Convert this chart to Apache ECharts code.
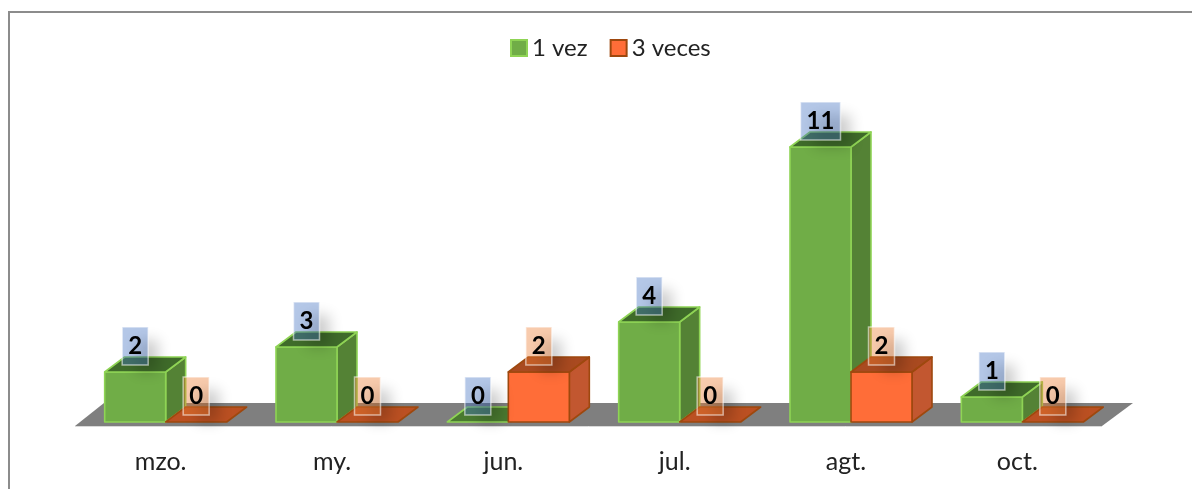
<!DOCTYPE html>
<html><head><meta charset="utf-8">
<style>html,body{margin:0;padding:0;background:#fff}#c{width:1192px;height:489px}</style>
<script src="https://cdn.jsdelivr.net/npm/echarts@6/dist/echarts.min.js"></script>
</head><body><div id="c"></div>
<script>
const categories = ['mzo.', 'my.', 'jun.', 'jul.', 'agt.', 'oct.'];
const unaVez = [2, 3, 0, 4, 11, 1];
const tresVeces = [0, 0, 2, 0, 2, 0];

const FONT = 'Lato';
const DX = 20, DY = -15, BAR = 0.356, FAR = 3000;
const GREEN = {front:'#70ad47', top:'#3f6b2a', flat:'#4a7a30', side:'#548235', line:'#8fd455', label:'rgba(68,114,196,0.4)'};
const ORANGE = {front:'#ff6d38', top:'#a94a20', flat:'#bb5022', side:'#c25730', line:'#9e480e', label:'rgba(237,125,49,0.4)'};

function bar(pal, dir) {
  return function (params, api) {
    const base = api.coord([api.value(0), 0]);
    const top = api.coord([api.value(0), api.value(1)]);
    const w = api.size([1, 0])[0] * BAR;
    const x0 = dir < 0 ? base[0] - w : base[0], x1 = x0 + w;
    const yb = base[1], yt = top[1];
    const ln = {stroke: pal.line, lineWidth: 1.6, lineJoin: 'round'};
    const kids = [];
    if (yb !== yt) {
      kids.push({type:'polygon', shape:{points:[[x1,yt],[x1+DX,yt+DY],[x1+DX,yb+DY],[x1,yb]]}, style:Object.assign({fill:pal.side}, ln)});
      kids.push({type:'rect', shape:{x:x0,y:yt,width:w,height:yb-yt}, style:Object.assign({fill:pal.front}, ln)});
    }
    kids.push({type:'polygon', shape:{points:[[x0,yt],[x1,yt],[x1+DX,yt+DY],[x0+DX,yt+DY]]},
      style:Object.assign({fill: yb !== yt ? pal.top : pal.flat}, ln)});
    return {type:'group', children:kids};
  };
}
function badge(pal, dir) {
  return function (params, api) {
    const base = api.coord([api.value(0), 0]);
    const top = api.coord([api.value(0), api.value(1)]);
    const w = api.size([1, 0])[0] * BAR;
    const cx = base[0] + dir * w / 2, cy = top[1] - 26;
    const txt = String(api.value(1));
    const bw = txt.length > 1 ? 40 : 26, bh = 38;
    return {type:'group', children:[
      {type:'rect', shape:{x:cx-bw/2+14-FAR,y:cy-bh/2+13,width:bw-4,height:bh-6},
       style:{fill:'#000', shadowBlur:14, shadowOffsetX:FAR, shadowColor:'rgba(0,0,0,0.2)'}},
      {type:'rect', shape:{x:cx-bw/2,y:cy-bh/2,width:bw,height:bh},
       style:{fill:pal.label, stroke:'rgba(255,255,255,0.55)', lineWidth:1.5}},
      {type:'text', style:{x:cx, y:cy, text:txt, align:'center', verticalAlign:'middle',
        fill:'#000', font:'bold 24px ' + FONT}}
    ]};
  };
}
function floor(params, api) {
  const p = api.coord([0, 0]), q = api.coord([categories.length - 1, 0]);
  const half = api.size([1, 0])[0] / 2;
  const l = p[0] - half, r = q[0] + half, y = p[1];
  return {type:'group', children:[
    {type:'polygon', shape:{points:[[l-5,y+4],[r-6,y+4],[r+25,y-19],[l+24,y-19]]}, style:{fill:'#7f7f7f'}},
    {type:'line', shape:{x1:l-5,y1:y+4.5,x2:r-6,y2:y+4.5}, style:{stroke:'#d9d9d9', lineWidth:1}}
  ]};
}
const pairs = s => s.map((v, i) => [i, v]);

const chart = echarts.init(document.getElementById('c'), null, {renderer:'canvas'});
chart.setOption({
  animation:false,
  backgroundColor:'#fff',
  textStyle:{fontFamily:FONT},
  grid:{left:80, right:84, top:72, bottom:67},
  legend:{
    data:[{name:'1 vez', icon:'rect'},{name:'3 veces', icon:'rect'}], top:31, left:505, itemWidth:16, itemHeight:16, itemGap:22,
    textStyle:{fontSize:24, color:'#222', fontFamily:FONT}
  },
  xAxis:{type:'category', data:categories, axisLine:{show:false}, axisTick:{show:false},
    axisLabel:{fontSize:25, color:'#222', margin:27, padding:[0,10,0,0], fontFamily:FONT}},
  yAxis:{type:'value', min:0, max:14, show:false},
  graphic:[{type:'polyline', silent:true, shape:{points:[[9,489],[9,12],[1192,12]]},
    style:{fill:'none', stroke:'#8c8c8c', lineWidth:2}}],
  series:[
    {type:'custom', name:'floor', data:[[0,0]], renderItem:floor, silent:true, z:1},
    {type:'custom', name:'1 vez', data:pairs(unaVez), renderItem:bar(GREEN,-1), z:2,
      itemStyle:{color:GREEN.front, borderColor:GREEN.line, borderWidth:1.5}},
    {type:'custom', name:'3 veces', data:pairs(tresVeces), renderItem:bar(ORANGE,1), z:3,
      itemStyle:{color:ORANGE.front, borderColor:ORANGE.line, borderWidth:1.5}},
    {type:'custom', name:'etiquetas 1', data:pairs(unaVez), renderItem:badge(GREEN,-1), z:4, silent:true},
    {type:'custom', name:'etiquetas 3', data:pairs(tresVeces), renderItem:badge(ORANGE,1), z:5, silent:true}
  ]
});
</script></body></html>
